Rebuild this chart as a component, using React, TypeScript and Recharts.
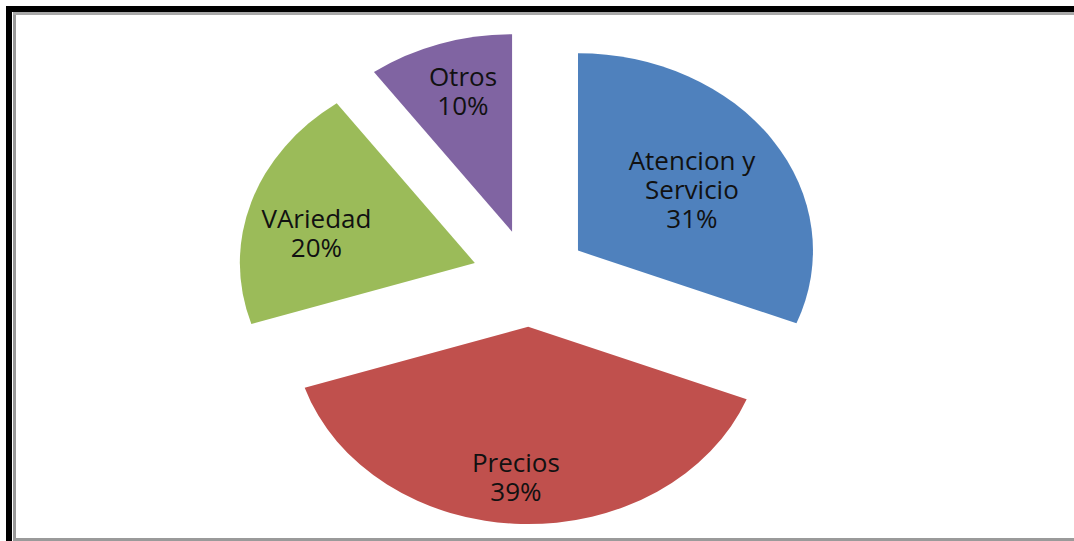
import React from "react";
import { PieChart, Pie, Cell } from "recharts";

// ---- data ----
const categories = ["Atencion y Servicio", "Precios", "VAriedad", "Otros"];
const values = [31, 39, 20, 10];
const percentLabels = ["31%", "39%", "20%", "10%"];
const colors = ["#4F81BD", "#C0504D", "#9BBB59", "#8064A2"];

// ---- layout / style config ----
const W = 1074;
const H = 541;
const CX = 530;
const CY = 278;
const R = 235;
const SQUASH = 0.84; // vertical squash of the pie (ellipse)
const EXPLODE = 58; // explosion distance (unscaled)
const labelFrac = [0.574, 0.766, 0.689, 0.74];
const labelAngleAdj = [1.3, 1.6, -4.2, 1.2]; // degrees
const FONT = 26;
const LINE_H = 29;
const CAP = 18;

const data = categories.map((name, i) => ({ name, value: values[i], pct: percentLabels[i] }));

const total = values.reduce((a, b) => a + b, 0);
// mid angle measured clockwise from 12 o'clock, in radians
const midAngles: number[] = [];
{
  let acc = 0;
  values.forEach((v) => {
    midAngles.push(((acc + v / 2) / total) * 2 * Math.PI);
    acc += v;
  });
}

function wrap(text: string, max: number): string[] {
  const words = text.split(" ");
  const lines: string[] = [];
  let cur = "";
  words.forEach((w) => {
    const test = cur ? cur + " " + w : w;
    if (test.length > max && cur) {
      lines.push(cur);
      cur = w;
    } else {
      cur = test;
    }
  });
  if (cur) lines.push(cur);
  return lines;
}

const renderLabel = (props: any) => {
  const { index, cx, cy, outerRadius } = props;
  const a = midAngles[index] + (labelAngleAdj[index] * Math.PI) / 180;
  const dist = EXPLODE + labelFrac[index] * outerRadius;
  const x = cx + dist * Math.sin(a);
  const y = cy - dist * Math.cos(a) * SQUASH;
  const lines = [...wrap(data[index].name, 11), data[index].pct];
  const firstBase = y - ((lines.length - 1) * LINE_H) / 2 + CAP / 2;
  return (
    <text
      key={"lbl" + index}
      x={x}
      y={firstBase}
      textAnchor="middle"
      fontFamily="'Open Sans', sans-serif"
      fontSize={FONT}
      fill="#111"
    >
      {lines.map((l, j) => (
        <tspan key={j} x={x} y={firstBase + j * LINE_H}>
          {l}
        </tspan>
      ))}
    </text>
  );
};

export default function App() {
  return (
    <div
      style={{
        position: "fixed",
        left: 0,
        top: 0,
        width: W,
        height: H,
        background: "#fff",
        overflow: "hidden",
      }}
    >
      {/* frame */}
      <div style={{ position: "absolute", left: 6, top: 6, width: 6, height: H - 6, background: "#000" }} />
      <div style={{ position: "absolute", left: 6, top: 6, width: W - 6, height: 6, background: "#000" }} />
      <div style={{ position: "absolute", left: 13, top: 13, width: 3, height: H - 13, background: "#9a9a9a" }} />
      <div style={{ position: "absolute", left: 13, top: 12, width: W - 13, height: 3, background: "#a8a8a8" }} />
      <div style={{ position: "absolute", left: 13, top: 538, width: W - 13, height: 3, background: "#9a9a9a" }} />
      <div style={{ position: "absolute", left: 0, top: 0 }}>
        <PieChart width={W} height={H} margin={{ top: 0, right: 0, bottom: 0, left: 0 }}>
          <Pie
            data={data}
            dataKey="value"
            nameKey="name"
            cx={CX}
            cy={CY}
            outerRadius={R}
            startAngle={90}
            endAngle={-270}
            stroke="none"
            isAnimationActive={false}
            label={renderLabel}
            labelLine={false}
          >
            {data.map((d, i) => {
              const dx = EXPLODE * Math.sin(midAngles[i]);
              const dy = -EXPLODE * Math.cos(midAngles[i]) * SQUASH;
              return (
                <Cell
                  key={d.name}
                  fill={colors[i]}
                  stroke="none"
                  style={{
                    transformOrigin: `${CX}px ${CY}px`,
                    transform: `translate(${dx}px, ${dy}px) scale(1, ${SQUASH})`,
                  }}
                />
              );
            })}
          </Pie>
        </PieChart>
      </div>
    </div>
  );
}
